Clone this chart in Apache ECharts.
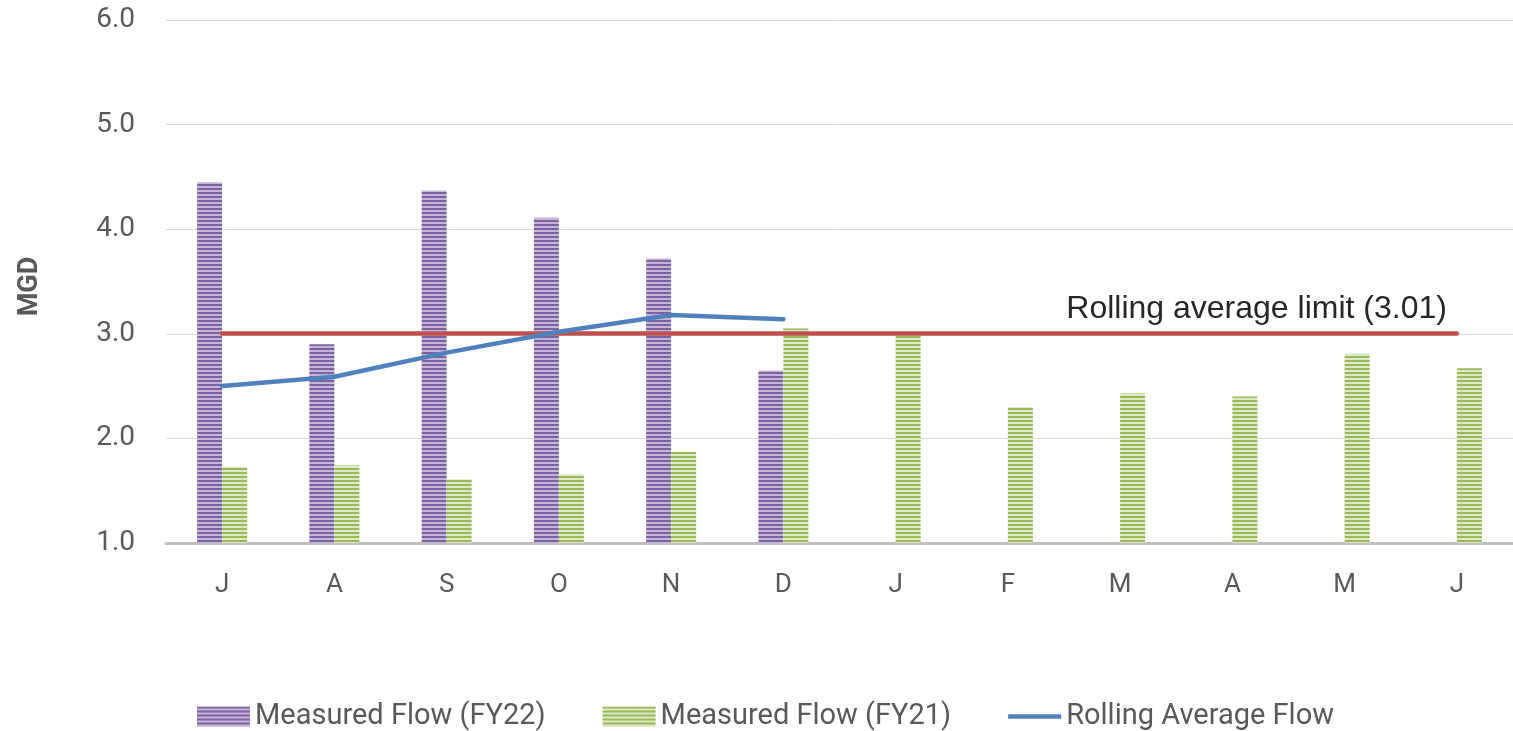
<!DOCTYPE html>
<html>
<head>
<meta charset="utf-8">
<script src="https://cdn.jsdelivr.net/npm/echarts@6/dist/echarts.min.js"></script>
<style>html,body{margin:0;padding:0;background:#fff}#c{width:1513px;height:731px}</style>
</head>
<body>
<div id="c"></div>
<script>
const categories = ['J','A','S','O','N','D','J','F','M','A','M','J'];
const flowFY22 = [4.45, 2.90, 4.37, 4.11, 3.72, 2.65, null, null, null, null, null, null];
const flowFY21 = [1.73, 1.74, 1.61, 1.66, 1.87, 3.05, 2.98, 2.30, 2.43, 2.40, 2.81, 2.67];
const rollingAvg = [2.50, 2.59, 2.82, 3.02, 3.18, 3.14, null, null, null, null, null, null];
const limitValue = 3.01;
const limitLabel = 'Rolling average limit (3.01)';
const yTicks = {min: 1, max: 6, interval: 1};

function stripes(dark, light) {
  const c = document.createElement('canvas');
  c.width = 4; c.height = 4;
  const g = c.getContext('2d');
  g.fillStyle = light; g.fillRect(0, 0, 4, 4);
  g.fillStyle = dark; g.fillRect(0, 0, 4, 2);
  return {image: c, repeat: 'repeat'};
}

const chart = echarts.init(document.getElementById('c'), null, {renderer: 'canvas'});
const font = 'Roboto, "Noto Sans", sans-serif';
chart.setOption({
  animation: false,
  grid: {left: 166, width: 1350, top: 20, bottom: 188},
  legend: {
    bottom: -5, left: 192, itemGap: 57, itemWidth: 53, itemHeight: 20,
    textStyle: {fontFamily: font, fontSize: 29, color: '#595959'},
    data: [
      {name: 'Measured Flow (FY22)', icon: 'rect'},
      {name: 'Measured Flow (FY21)', icon: 'rect'},
      {name: 'Rolling Average Flow', icon: 'path://M0,0L53,0L53,4.5L0,4.5Z'}
    ]
  },
  xAxis: {
    type: 'category', data: categories,
    axisLine: {lineStyle: {color: '#bfbfbf', width: 3}},
    axisTick: {show: false},
    axisLabel: {fontFamily: font, fontSize: 26, color: '#595959', margin: 29}
  },
  yAxis: {
    type: 'value', min: yTicks.min, max: yTicks.max, interval: yTicks.interval,
    name: 'MGD', nameLocation: 'middle', nameGap: 122, nameRotate: 90,
    nameTextStyle: {fontFamily: font, fontSize: 27, fontWeight: 'bold', color: '#595959',
      padding: [0, 10, 0, 0]},
    axisLabel: {fontFamily: font, fontSize: 28, color: '#595959', margin: 31,
      formatter: v => v.toFixed(1)},
    axisLine: {show: false}, axisTick: {show: false},
    splitLine: {lineStyle: {color: '#d9d9d9', width: 1}}
  },
  series: [
    {
      name: 'Measured Flow (FY22)', type: 'bar', data: flowFY22,
      barWidth: 25, barGap: '0%',
      itemStyle: {color: stripes('#7d62a0', '#c3b5d7')}
    },
    {
      name: 'Measured Flow (FY21)', type: 'bar', data: flowFY21,
      barWidth: 25,
      itemStyle: {color: stripes('#98b956', '#dde8c6')}
    },
    {
      name: 'Rolling Average Flow', type: 'line', data: rollingAvg,
      symbol: 'none', showSymbol: false,
      lineStyle: {color: '#4F81BD', width: 4.5, cap: 'round'},
      itemStyle: {color: '#4F81BD'},
      z: 5,
      markLine: {
        silent: true, symbol: 'none',
        lineStyle: {color: '#C0504D', width: 4.5, type: 'solid', cap: 'round'},
        label: {show: true, position: 'insideEndTop', formatter: limitLabel,
          fontFamily: '"Liberation Sans", Arial, sans-serif', fontSize: 32, color: '#262626',
          distance: [10, 8]},
        emphasis: {disabled: true},
        z: 4,
        data: [[{coord: [0, limitValue]}, {coord: [11, limitValue]}]]
      }
    }
  ]
});
</script>
</body>
</html>
